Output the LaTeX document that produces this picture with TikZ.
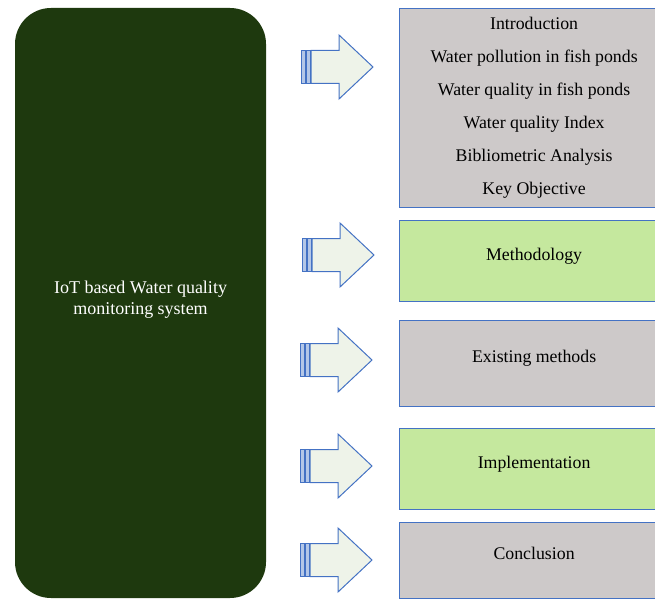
\documentclass[tikz,border=0pt]{standalone}
\usepackage{fontspec}
\setmainfont{Liberation Serif}
\usetikzlibrary{positioning}

\definecolor{iotgreen}{RGB}{30,57,14}
\definecolor{topicgrey}{RGB}{205,201,201}
\definecolor{topiclime}{RGB}{197,232,158}
\definecolor{edgeblue}{RGB}{68,114,196}
\definecolor{arrowpale}{RGB}{238,243,233}
\definecolor{stripeblue}{RGB}{180,199,231}

\tikzset{
  fatarrow/.pic={
    \draw[edgeblue, line width=1pt, fill=stripeblue] (0,-16.5) rectangle (4,16.5);
    \draw[edgeblue, line width=1pt, fill=stripeblue] (5,-16.5) rectangle (9,16.5);
    \draw[edgeblue, line width=1pt, fill=arrowpale]
      (10,-16.5) -- (38,-16.5) -- (38,-32) -- (72,0) -- (38,32) -- (38,16.5) -- (10,16.5) -- cycle;
  }
}

\begin{document}
\begin{tikzpicture}[
    x=1pt, y=-1pt,
    mainbox/.style={fill=iotgreen, rounded corners=36pt, text=white, align=center,
                    minimum width=251pt, minimum height=590pt, inner sep=0pt,
                    font=\fontsize{18}{21}\selectfont},
    topic/.style={draw=edgeblue, line width=1.2pt, align=center, anchor=north west,
                  minimum width=269pt, inner sep=0pt, font=\fontsize{17.8}{33}\selectfont},
    greybox/.style={topic, fill=topicgrey},
    limebox/.style={topic, fill=topiclime},
    oneline/.style={text depth=14pt}
]
\useasboundingbox (0,0) rectangle (655,599);

\node[mainbox, text depth=10pt] (iot) at (140.5,303)
    {IoT based Water quality\\monitoring system};

\node[greybox, minimum height=199pt] (intro) at (399,8)
    {Introduction\\
     Water pollution in fish ponds\\
     Water quality in fish ponds\\
     Water quality Index\\
     Bibliometric Analysis\\
     Key Objective};
\node[limebox, oneline, minimum height=81pt] (method) at (399,220) {Methodology};
\node[greybox, oneline, minimum height=86pt] (exist) at (399,320) {Existing methods};
\node[limebox, oneline, minimum height=81pt] (impl) at (399,428) {Implementation};
\node[greybox, oneline, minimum height=76pt] (concl) at (399,522) {Conclusion};

% Arrows
\pic (arrintro) at (301,67) {fatarrow};
\pic (arrmethod) at (302,255) {fatarrow};
\pic (arrexist) at (300,360) {fatarrow};
\pic (arrimpl) at (300,466) {fatarrow};
\pic (arrconcl) at (300,560) {fatarrow};

\end{tikzpicture}
\end{document}
